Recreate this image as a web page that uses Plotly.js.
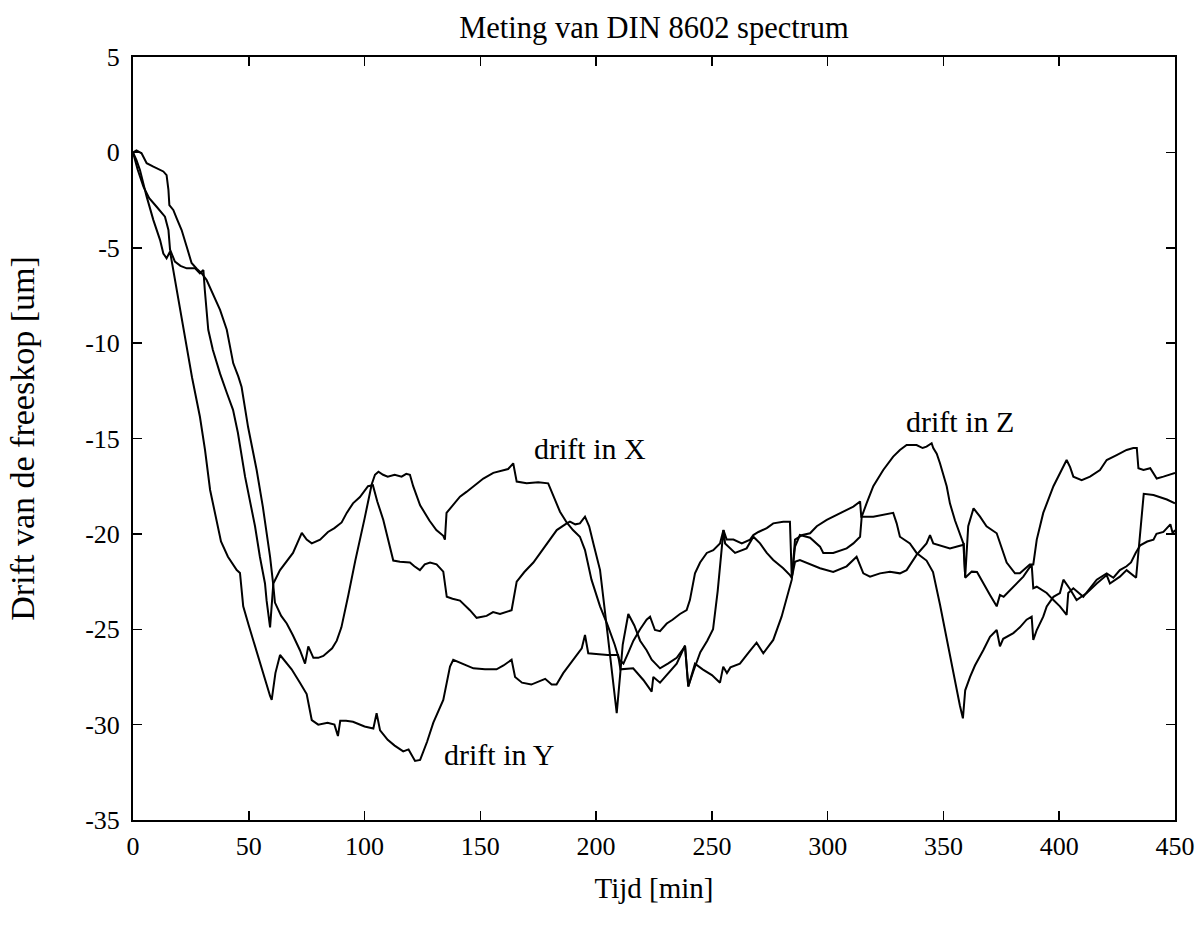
<!DOCTYPE html>
<html>
<head>
<meta charset="utf-8">
<script src="https://cdn.plot.ly/plotly-3.0.1.min.js"></script>
<style>html,body{margin:0;padding:0;background:#fff;}#chart{width:1204px;height:927px;}</style>
</head>
<body>
<div id="chart"></div>
<script>
// [time (min), drift (um)]
const driftX = [[0,0],[1.5,0.1],[3.7,-0.05],[5.9,-0.57],[8.8,-0.75],[11,-0.9],[13.1,-1.0],[14.5,-1.19],[15.3,-1.97],[15.7,-2.76],[17.4,-3.02],[19,-3.5],[21,-4.07],[23.2,-4.95],[25.3,-5.8],[27.5,-6.1],[29.7,-6.34],[31.8,-6.69],[34.5,-7.4],[37.6,-8.26],[40.5,-9.3],[43.3,-11.06],[45.5,-11.76],[46.9,-12.3],[49.7,-14.4],[53.4,-16.65],[56.1,-18.6],[59.2,-21.2],[60.5,-22.6],[61.3,-23.6],[64,-24.3],[66.4,-24.7],[69,-25.3],[72.1,-26.1],[74.3,-26.8],[75.7,-25.9],[77.9,-26.5],[80,-26.5],[82.2,-26.4],[86,-26.0],[88,-25.6],[90,-24.9],[93,-23.2],[96,-21.4],[100,-19.2],[103.1,-17.4],[104.5,-16.9],[106,-16.74],[108,-16.9],[110,-17.0],[113,-16.9],[116,-17.0],[118,-16.85],[119.6,-16.9],[121,-17.5],[124,-18.5],[128,-19.3],[131,-19.8],[134,-20.1],[134.7,-20.3],[135.4,-18.9],[138.3,-18.5],[141.2,-18.05],[144,-17.8],[147,-17.5],[151.3,-17.1],[155.6,-16.8],[159.9,-16.65],[162,-16.6],[164.2,-16.3],[165.7,-17.26],[170,-17.35],[175,-17.3],[179.3,-17.35],[181.5,-17.96],[184.4,-18.84],[187.3,-19.4],[190,-19.8],[193,-20.15],[195.2,-20.85],[198,-22.4],[201.7,-23.8],[205,-24.8],[208,-25.8],[210,-26.6],[211.8,-26.8],[214,-26.2],[216.1,-25.6],[219,-25.0],[221.8,-24.5],[223.3,-24.34],[225.4,-25.04],[227.6,-25.1],[230.5,-24.7],[233,-24.5],[236.2,-24.2],[239.1,-24.0],[240.5,-23.47],[242.7,-22.07],[244.9,-21.5],[247.8,-21.0],[250.6,-20.85],[253.5,-20.5],[255,-19.8],[256.4,-20.3],[259.3,-20.3],[262.9,-20.5],[266.5,-20.3],[267.9,-20.06],[270.1,-19.9],[273.7,-19.7],[276.5,-19.45],[280.8,-19.36],[283.7,-19.36],[284.5,-22.3],[285.9,-21.46],[288,-21.37],[292.4,-21.6],[296.7,-21.8],[302.4,-22.0],[308.2,-21.7],[312.5,-21.2],[315.4,-22.07],[318.3,-22.24],[322.6,-22.07],[326.9,-21.98],[331.2,-22.07],[334.1,-21.9],[338.4,-21.1],[342.7,-20.5],[344.2,-20.06],[345.6,-20.5],[349.9,-20.67],[352.8,-20.76],[357.9,-20.6],[358.8,-20.55],[359.4,-22.3],[362.2,-21.98],[364.5,-22.0],[367.2,-22.6],[370.1,-23.2],[373,-23.8],[374.4,-23.2],[376,-23.3],[380.2,-22.77],[384.5,-22.24],[388.1,-21.6],[388.8,-22.85],[390.3,-22.77],[394.6,-23.1],[397.5,-23.47],[400.3,-23.8],[403.2,-24.25],[403.9,-23.1],[406.1,-22.85],[410.4,-23.3],[413,-22.9],[416.2,-22.4],[420.5,-22.07],[423.4,-22.3],[426.2,-21.9],[429.1,-21.7],[431,-21.5],[433,-21.0],[435,-20.6],[438,-20.4],[440.7,-20.3],[442,-20.0],[445,-19.9],[448,-19.5],[449,-19.97],[450,-19.8]];

const driftY = [[0,0],[1.5,-0.4],[3,-0.93],[5.9,-2.32],[8.8,-3.55],[11.7,-4.6],[13.1,-5.3],[14.5,-5.55],[16,-5.2],[17.4,-6.17],[20.3,-8.09],[23.2,-10.1],[25.5,-11.8],[28.9,-13.86],[31.1,-15.6],[33.3,-17.7],[36.1,-19.4],[38,-20.4],[41,-21.2],[44.8,-21.9],[46.2,-22.05],[47.6,-23.8],[50,-24.8],[52,-25.6],[56,-27.3],[59.2,-28.5],[59.9,-28.7],[61.5,-27.3],[63.5,-26.35],[66.4,-26.8],[68.5,-27.1],[72.1,-27.8],[75,-28.4],[77.2,-29.76],[80,-30.0],[84,-29.9],[87,-30.0],[88.5,-30.6],[89.5,-29.8],[92,-29.8],[95,-29.85],[100,-30.1],[103.8,-30.2],[105.2,-29.4],[106.7,-30.3],[110,-30.8],[113,-31.1],[116.7,-31.4],[119,-31.3],[121.8,-31.9],[124,-31.85],[127,-30.9],[129.7,-29.9],[134,-28.7],[136.9,-26.96],[138.3,-26.6],[142,-26.8],[147,-27.05],[152,-27.1],[157,-27.1],[160,-26.9],[163.5,-26.6],[165,-27.5],[168,-27.8],[172,-27.9],[176,-27.7],[178,-27.6],[180.8,-27.9],[182.9,-27.9],[185.8,-27.3],[190.2,-26.6],[193.8,-26.0],[195.2,-25.3],[196.6,-26.26],[200,-26.3],[205,-26.35],[209.5,-26.35],[210.5,-27.1],[216,-27.05],[220.4,-27.66],[224,-28.27],[224.7,-27.5],[227.6,-27.8],[231,-27.3],[234.8,-26.8],[238.4,-25.85],[239.8,-28.0],[242.7,-26.8],[246,-27.1],[250,-27.4],[253.5,-27.8],[254.9,-26.96],[256.5,-27.3],[258,-27.0],[262.1,-26.8],[266,-26.2],[269.3,-25.7],[272.2,-26.26],[276.5,-25.56],[280.1,-24.34],[284.5,-22.4],[285.9,-20.3],[289.1,-20.06],[292.4,-19.97],[295.3,-19.6],[299.6,-19.27],[302.4,-19.1],[306.7,-18.84],[311.1,-18.57],[314,-18.3],[314.5,-19.1],[319.7,-19.1],[324,-19.0],[328.3,-18.9],[329.8,-19.45],[331.2,-20.15],[335.5,-20.5],[338.4,-21.0],[342.7,-21.4],[345.5,-22.0],[348.5,-23.7],[351.4,-25.5],[354.2,-27.4],[357.1,-29.0],[358.4,-29.67],[359.4,-28.2],[361.5,-27.5],[363.6,-26.9],[367.2,-26.1],[370.1,-25.4],[373,-25.04],[374.4,-25.9],[375.8,-25.5],[380.2,-25.2],[383,-24.9],[385.9,-24.5],[388.1,-24.34],[388.8,-25.56],[390.3,-25.04],[393.1,-24.34],[394.6,-23.8],[397.5,-23.3],[400.3,-23.1],[401.8,-22.4],[404.7,-22.9],[407.5,-23.47],[411.9,-23.1],[416.2,-22.6],[420.5,-22.16],[421.9,-22.6],[426.2,-22.24],[429.1,-21.9],[433.2,-22.3],[435,-20.0],[436.5,-17.9],[440.7,-17.96],[446.5,-18.2],[450,-18.4]];

const driftZ = [[0,0],[2,-0.9],[4.5,-1.8],[7,-2.4],[10.2,-2.85],[12,-3.1],[13.8,-3.37],[15.3,-4.07],[16,-5.1],[18.1,-5.73],[20.5,-5.95],[23.2,-6.08],[26.8,-6.08],[28.9,-6.34],[30.4,-6.17],[31,-7.2],[32.5,-9.3],[34.5,-10.36],[37.6,-11.6],[40.5,-12.6],[43.2,-13.5],[45.3,-14.7],[48.4,-17.0],[52.7,-19.6],[54.8,-21.2],[57,-22.6],[57.7,-23.5],[59.2,-24.9],[59.9,-23.8],[60.6,-22.6],[63.5,-21.9],[66,-21.5],[69.1,-21.0],[72.9,-19.95],[75,-20.3],[77.2,-20.5],[80.8,-20.3],[84.2,-19.9],[87,-19.7],[90.1,-19.4],[92.3,-18.9],[95,-18.4],[98,-18.07],[101.5,-17.5],[103.6,-17.45],[105.5,-18.3],[108.1,-19.27],[112.4,-21.4],[115.3,-21.46],[119.6,-21.5],[121.5,-21.7],[123.9,-21.9],[126,-21.6],[128.3,-21.5],[131.1,-21.6],[134,-21.98],[135.5,-23.3],[138,-23.4],[141.2,-23.5],[145.5,-24.0],[148.4,-24.4],[152.7,-24.3],[155.5,-24.1],[158.5,-24.2],[163.5,-24.0],[165.7,-22.5],[169,-22.0],[172.9,-21.5],[176.5,-20.9],[180.1,-20.3],[183,-19.8],[187.3,-19.45],[188.7,-19.36],[191,-19.5],[193,-19.45],[195.2,-19.1],[197,-19.6],[199,-20.6],[201.7,-21.9],[205,-25.3],[208.9,-29.4],[210.3,-27.5],[211.5,-25.8],[213.9,-24.2],[216.5,-24.8],[219,-25.6],[221.8,-26.1],[224,-26.6],[227.6,-27.05],[231,-26.8],[234.8,-26.5],[238.4,-25.9],[239.8,-28.0],[242,-27.2],[245,-26.2],[248,-25.6],[250.5,-25.0],[252.5,-23.0],[254,-21.0],[255,-19.8],[255.7,-20.5],[260,-21.0],[265,-20.76],[267.9,-20.15],[270.8,-20.5],[273.7,-21.0],[276.5,-21.37],[280.8,-21.8],[283.7,-22.16],[284.5,-22.3],[285.9,-20.67],[288,-20.06],[292.4,-20.2],[296.7,-20.67],[298.1,-21.0],[302.4,-21.0],[308.2,-20.76],[311.1,-20.5],[314,-20.15],[314.7,-19.1],[316.8,-18.4],[319.7,-17.5],[324,-16.65],[328.3,-15.95],[331.2,-15.6],[334.1,-15.34],[338.4,-15.34],[341,-15.5],[342.7,-15.43],[344.9,-15.25],[345.6,-15.5],[347.1,-15.8],[348.5,-16.3],[351.4,-17.5],[352.8,-18.4],[355,-19.3],[358.6,-20.5],[359.4,-22.24],[360.7,-19.6],[363,-18.66],[365.8,-19.1],[368.6,-19.6],[373,-19.97],[374.4,-20.5],[377.3,-21.5],[380.9,-22.07],[383,-22.07],[387.3,-21.6],[388.8,-21.6],[390.3,-20.3],[393.1,-18.9],[397.5,-17.5],[401.8,-16.5],[403.2,-16.13],[404.7,-16.5],[406.1,-17.0],[409.7,-17.18],[413.3,-17.0],[417.6,-16.65],[420.5,-16.13],[424.8,-15.87],[429.1,-15.6],[432,-15.5],[433.5,-15.5],[434.2,-16.56],[436.4,-16.65],[439.3,-16.56],[442.1,-17.1],[445,-17.0],[447.9,-16.9],[450,-16.8]];

const seriesNames = ['drift in X', 'drift in Y', 'drift in Z'];
const labelPos = [[197.4,-15.5],[158.1,-31.54],[357.1,-14.13]];

const xTickVals = [0,50,100,150,200,250,300,350,400,450];
const xTickText = ['0','50','100','150','200','250','300','350','400','450'];
const yTickVals = [-35,-30,-25,-20,-15,-10,-5,0,5];
const yTickText = ['-35','-30','-25','-20','-15','-10','-5','0','5'];

const FONT = 'Liberation Serif, Times New Roman, serif';

const traces = [driftX, driftY, driftZ].map((s, i) => ({
  type: 'scatter', mode: 'lines', name: seriesNames[i],
  x: s.map(p => p[0]), y: s.map(p => p[1]),
  line: {color: '#000', width: 2}, hoverinfo: 'skip'
}));

const annotations = seriesNames.map((t, i) => ({
  x: labelPos[i][0], y: labelPos[i][1], xref: 'x', yref: 'y',
  text: t, showarrow: false, xanchor: 'center', yanchor: 'middle',
  font: {family: FONT, size: 30, color: '#000'}
}));

const axisCommon = {
  ticks: 'inside', ticklen: 9, tickwidth: 1.5, tickcolor: '#000',
  mirror: 'ticks', showline: true, linewidth: 2, linecolor: '#000',
  showgrid: false, zeroline: false, tickfont: {family: FONT, size: 26, color: '#000'}
};

const layout = {
  width: 1204, height: 927,
  margin: {l: 133, r: 29, t: 57, b: 107},
  paper_bgcolor: '#fff', plot_bgcolor: '#fff',
  showlegend: false,
  font: {family: FONT, color: '#000'},
  title: {text: 'Meting van DIN 8602 spectrum', xref: 'paper', x: 0.5, xanchor: 'center',
          yref: 'container', y: 1 - 27/927, yanchor: 'middle', font: {family: FONT, size: 30.5, color: '#000'}},
  xaxis: Object.assign({}, axisCommon, {range: [0, 450], tickmode: 'array', tickvals: xTickVals, ticktext: xTickText,
          ticklabelstandoff: 2,
          title: {text: 'Tijd [min]', standoff: 17, font: {family: FONT, size: 29, color: '#000'}}}),
  yaxis: Object.assign({}, axisCommon, {range: [-35, 5], tickmode: 'array', tickvals: yTickVals, ticktext: yTickText,
          ticklabelstandoff: 6,
          title: {text: 'Drift van de freeskop [um]', standoff: 40, font: {family: FONT, size: 34, color: '#000'}}}),
  annotations: annotations
};

Plotly.newPlot('chart', traces, layout, {staticPlot: true, displayModeBar: false});
</script>
</body>
</html>
